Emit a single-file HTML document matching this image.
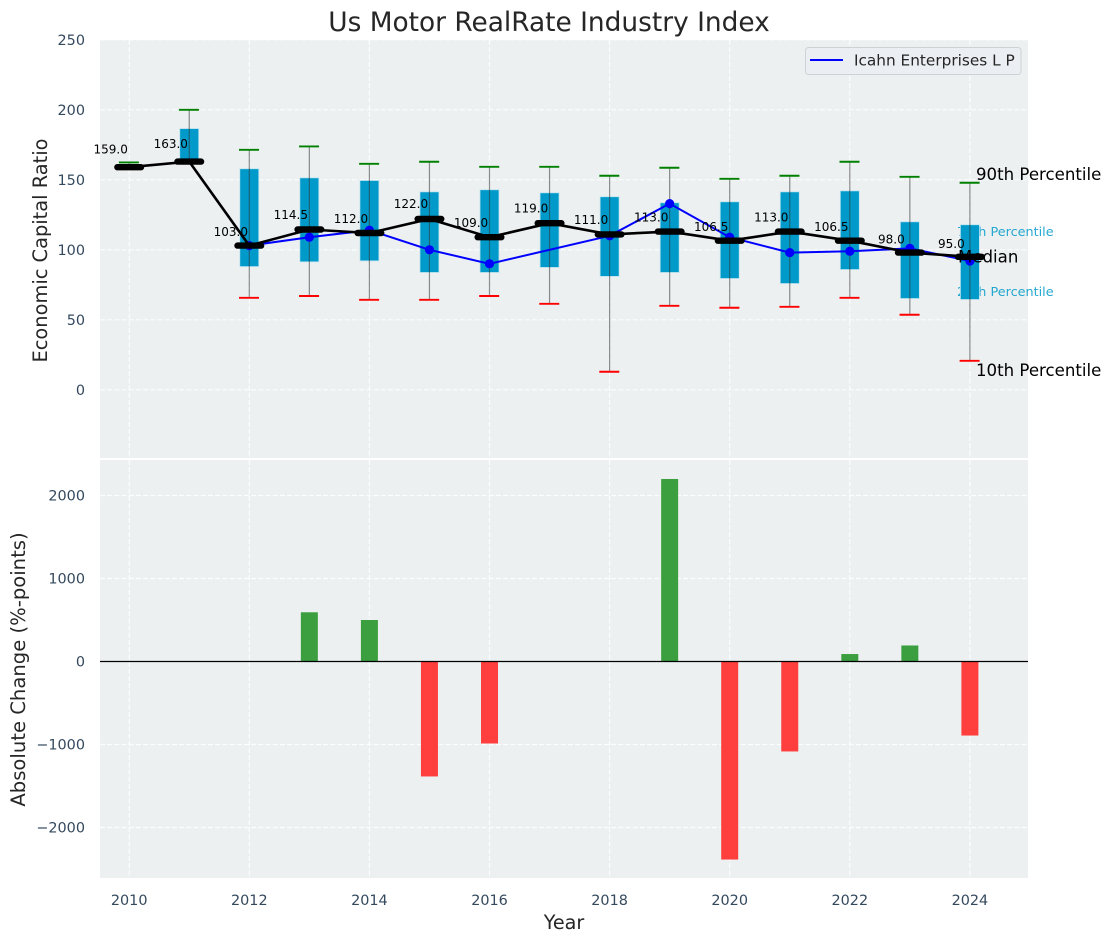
<!DOCTYPE html>
<html lang="en">
<head>
<meta charset="utf-8">
<title>Us Motor RealRate Industry Index</title>
<style>
  html, body { margin: 0; padding: 0; background: #fff; }
  svg { display: block; font-family: "DejaVu Sans", "Liberation Sans", sans-serif; }
</style>
</head>
<body>
<svg id="chart" xmlns="http://www.w3.org/2000/svg" width="1111" height="942" viewBox="0 0 1111 942">
  <rect width="1111" height="942" fill="#ffffff"/>
  <rect x="100" y="40" width="928" height="418" fill="#ecf0f1"/>
  <rect x="100" y="460" width="928" height="418" fill="#ecf0f1"/>
  <g id="grid"></g>
  <g id="ticks"></g>
  <text x="549" y="31" text-anchor="middle" font-size="26.4px" fill="#262626">Us Motor RealRate Industry Index</text>
  <text transform="translate(47,250.5) rotate(-90)" text-anchor="middle" font-size="19.4px" fill="#262626">Economic Capital Ratio</text>
  <text transform="translate(25,669.5) rotate(-90)" text-anchor="middle" font-size="19.6px" fill="#262626">Absolute Change (%-points)</text>
  <text x="564" y="929" text-anchor="middle" font-size="19.2px" fill="#262626">Year</text>
  <text x="957" y="236" font-size="12.8px" fill="#009ac9" fill-opacity="0.85">75th Percentile</text>
  <text x="957" y="296" font-size="12.8px" fill="#009ac9" fill-opacity="0.85">25th Percentile</text>
  <g id="marks"></g>
  <text x="976" y="180" font-size="16.6px" fill="#000000">90th Percentile</text>
  <text x="958" y="262.5" font-size="16.6px" fill="#000000">Median</text>
  <text x="976" y="376" font-size="16.6px" fill="#000000">10th Percentile</text>
  <g id="median-layer"></g>
  <g>
    <rect x="805.5" y="47.5" width="215.5" height="27" rx="3" fill="#ebeef2" stroke="#cfd2d4" stroke-width="1"/>
    <line x1="810" y1="60" x2="843" y2="60" stroke="#0000ff" stroke-width="2"/>
    <text x="854" y="65.5" font-size="15.3px" fill="#262626">Icahn Enterprises L P</text>
  </g>
</svg>
<script>
const years = [2010, 2011, 2012, 2013, 2014, 2015, 2016, 2017, 2018, 2019, 2020, 2021, 2022, 2023, 2024];
const p90 = [162.4, 200, 171.4, 173.8, 161.4, 162.9, 159.3, 159.3, 152.9, 158.6, 150.7, 152.9, 162.9, 152.1, 147.9];
const p75 = [null, 186.6, 157.9, 151.4, 149.5, 141.4, 142.9, 140.7, 137.9, 133.6, 134.3, 141.4, 142.1, 120, 117.9];
const medians = [159, 163, 103, 114.5, 112, 122, 109, 119, 111, 113, 106.5, 113, 106.5, 98, 95];
const p25 = [null, 163, 88, 91.4, 92.1, 83.8, 83.8, 87.4, 81, 83.8, 79.5, 75.9, 85.9, 65.2, 64.5];
const p10 = [null, null, 65.7, 67, 64.3, 64.3, 67, 61.4, 12.9, 60, 58.6, 59.3, 65.7, 53.6, 20.7];
const company = [null, null, 103, 109, 114, 100, 90, null, 110, 133, 109, 98, 99, 101, 92];
const changes = [null, null, null, 593, 500, -1385, -988, null, null, 2199, -2386, -1084, 90, 193, -892];
const xTicks = [2010, 2012, 2014, 2016, 2018, 2020, 2022, 2024];
const topTicks = [0, 50, 100, 150, 200, 250];
const bottomTicks = [-2000, -1000, 0, 1000, 2000];

const NS = 'http://www.w3.org/2000/svg';
const xScale = function (v) { return 129.2 + (v - 2010) * 60.05; };
const yTop = function (v) { return 389.8 - v * 1.4; };
const yBottom = function (v) { return 661.5 - v * 0.083; };

function make(tag, attrs, parent) {
  const el = document.createElementNS(NS, tag);
  for (const k in attrs) el.setAttribute(k, attrs[k]);
  parent.appendChild(el);
  return el;
}

const grid = document.getElementById('grid');
const ticks = document.getElementById('ticks');
const marks = document.getElementById('marks');
const medianLayer = document.getElementById('median-layer');
const gridStyle = { stroke: '#ffffff', 'stroke-width': 1.2, 'stroke-dasharray': '5 2.2', 'stroke-opacity': 0.85 };

xTicks.forEach(function (t) {
  [[40, 458], [460, 878]].forEach(function (span) {
    const g = make('line', Object.assign({ x1: xScale(t), x2: xScale(t), y1: span[0], y2: span[1] }, gridStyle), grid);
    
    
  });
  const label = make('text', { x: xScale(t), y: 905, 'text-anchor': 'middle', 'font-size': '14.4px', fill: '#34495e' }, ticks);
  label.textContent = String(t);
  
  
});

topTicks.forEach(function (t) {
  const g = make('line', Object.assign({ x1: 100, x2: 1028, y1: yTop(t), y2: yTop(t) }, gridStyle), grid);
  
  
  const label = make('text', { x: 85, y: yTop(t) + 5.2, 'text-anchor': 'end', 'font-size': '14.4px', fill: '#34495e' }, ticks);
  label.textContent = String(t);
  
  
});

bottomTicks.forEach(function (t) {
  const g = make('line', Object.assign({ x1: 100, x2: 1028, y1: yBottom(t), y2: yBottom(t) }, gridStyle), grid);
  
  
  const label = make('text', { x: 85, y: yBottom(t) + 5.2, 'text-anchor': 'end', 'font-size': '14.4px', fill: '#34495e' }, ticks);
  label.textContent = String(t).replace('-', '\u2212');
  
  
});

years.forEach(function (year, i) {
  const x = xScale(year);
  if (p75[i] !== null && p25[i] !== null) {
    const box = make('rect', { x: x - 9.5, y: yTop(p75[i]), width: 19, height: yTop(p25[i]) - yTop(p75[i]), fill: '#009aca', stroke: '#bfe3ef', 'stroke-width': 0.8 }, marks);
    
    
  }
  const low = p10[i] !== null ? p10[i] : medians[i];
  const whisker = make('line', { x1: x, x2: x, y1: yTop(p90[i]), y2: yTop(low), stroke: '#333333', 'stroke-opacity': 0.55, 'stroke-width': 1.2 }, marks);
  
  
  const topCap = make('line', { x1: x - 10.3, x2: x + 9.7, y1: yTop(p90[i]), y2: yTop(p90[i]), stroke: '#008000', 'stroke-width': 1.9 }, marks);
  
  
  if (p10[i] !== null) {
    const lowCap = make('line', { x1: x - 10.3, x2: x + 9.7, y1: yTop(p10[i]), y2: yTop(p10[i]), stroke: '#ff0000', 'stroke-width': 1.9 }, marks);
    
    
  }
});

const companyPoints = [];
years.forEach(function (year, i) {
  if (company[i] !== null) companyPoints.push(xScale(year) + ',' + yTop(company[i]));
});
const companyLine = make('polyline', { points: companyPoints.join(' '), fill: 'none', stroke: '#0000ff', 'stroke-width': 2 }, marks);


years.forEach(function (year, i) {
  if (company[i] === null) return;
  const dot = make('circle', { cx: xScale(year), cy: yTop(company[i]), r: 4.6, fill: '#0000ff' }, marks);
  
  
});

const medianPoints = years.map(function (year, i) { return xScale(year) + ',' + yTop(medians[i]); });
const medianLine = make('polyline', { points: medianPoints.join(' '), fill: 'none', stroke: '#000000', 'stroke-width': 2.6 }, medianLayer);


years.forEach(function (year, i) {
  const x = xScale(year);
  const y = yTop(medians[i]);
  const dash = make('line', { x1: x - 11.8, x2: x + 11.8, y1: y, y2: y, stroke: '#000000', 'stroke-width': 6.4, 'stroke-linecap': 'round' }, medianLayer);
  
  
  const label = make('text', { x: x - 18.5, y: y - 2.4 - medians[i] * 0.07, 'text-anchor': 'middle', 'font-size': '12px', fill: '#000000' }, medianLayer);
  label.textContent = medians[i].toFixed(1);
  
  
});

years.forEach(function (year, i) {
  if (changes[i] === null) return;
  const y0 = yBottom(0);
  const y1 = yBottom(changes[i]);
  const bar = make('rect', { x: xScale(year) - 8.5, y: Math.min(y0, y1), width: 17, height: Math.abs(y1 - y0), fill: changes[i] >= 0 ? '#3b9f3f' : '#ff3e3e' }, marks);
  
  
});
const zeroLine = make('line', { x1: 100, x2: 1028, y1: yBottom(0), y2: yBottom(0), stroke: '#000000', 'stroke-width': 1.2 }, marks);


</script>
</body>
</html>
